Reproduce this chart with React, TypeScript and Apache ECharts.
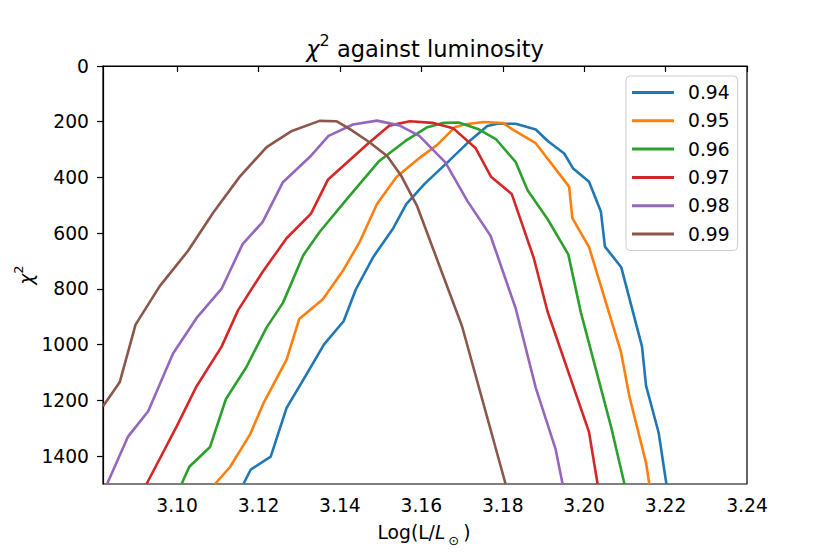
import React, { useEffect, useRef } from "react";
import * as echarts from "echarts";

const seriesNames = ["0.94", "0.95", "0.96", "0.97", "0.98", "0.99"];
const colors = ["#1f77b4", "#ff7f0e", "#2ca02c", "#d62728", "#9467bd", "#8c564b"];

const lum094 = [3.1163, 3.1181, 3.123, 3.1269, 3.1315, 3.1361, 3.1409, 3.1439, 3.1482, 3.1531, 3.1563, 3.1608, 3.1666, 3.1715, 3.1762, 3.1787, 3.1832, 3.1881, 3.1912, 3.1951, 3.1973, 3.2012, 3.2041, 3.2051, 3.2091, 3.2142, 3.2152, 3.2183, 3.2202];
const chi094 = [1500, 1448, 1402, 1227, 1114, 999, 916, 802, 685, 582, 496, 423, 343, 274, 215, 207, 207, 228, 271, 314, 368, 415, 522, 648, 722, 1006, 1147, 1316, 1500];

const lum095 = [3.1093, 3.113, 3.1179, 3.1212, 3.1269, 3.13, 3.1358, 3.1409, 3.1449, 3.1491, 3.1539, 3.159, 3.1639, 3.1682, 3.1706, 3.1752, 3.1801, 3.1832, 3.1881, 3.1963, 3.1971, 3.2012, 3.209, 3.2111, 3.2152, 3.216];
const chi095 = [1500, 1439, 1323, 1211, 1054, 908, 837, 731, 630, 495, 398, 336, 283, 220, 210, 201, 205, 235, 277, 433, 546, 650, 1024, 1185, 1424, 1500];

const lum096 = [3.1011, 3.103, 3.1081, 3.112, 3.117, 3.122, 3.126, 3.131, 3.1351, 3.1417, 3.1495, 3.1561, 3.1613, 3.1655, 3.1692, 3.1739, 3.1783, 3.1832, 3.1861, 3.191, 3.1961, 3.1992, 3.2066, 3.2099];
const chi096 = [1500, 1438, 1367, 1195, 1081, 938, 850, 679, 594, 478, 343, 269, 221, 204, 203, 226, 262, 345, 446, 549, 676, 885, 1294, 1500];

const lum097 = [3.0925, 3.0999, 3.1048, 3.1109, 3.115, 3.121, 3.1269, 3.1329, 3.1371, 3.147, 3.1521, 3.1572, 3.1627, 3.1678, 3.1733, 3.1771, 3.1822, 3.1876, 3.191, 3.2012, 3.2033];
const chi097 = [1500, 1293, 1149, 1008, 876, 739, 618, 530, 407, 277, 214, 198, 204, 223, 294, 397, 459, 688, 881, 1314, 1500];

const lum098 = [3.0828, 3.0879, 3.0929, 3.099, 3.1048, 3.1109, 3.1161, 3.121, 3.126, 3.1327, 3.1372, 3.1432, 3.1491, 3.1546, 3.1595, 3.1659, 3.1713, 3.177, 3.1832, 3.1881, 3.193, 3.1947];
const chi098 = [1500, 1331, 1239, 1032, 904, 800, 639, 560, 417, 325, 251, 210, 196, 213, 251, 346, 484, 609, 871, 1154, 1376, 1500];

const lum099 = [3.0818, 3.0859, 3.0898, 3.0957, 3.1027, 3.1089, 3.1154, 3.122, 3.1282, 3.135, 3.1391, 3.142, 3.147, 3.1516, 3.1551, 3.159, 3.17, 3.1807];
const chi099 = [1221, 1135, 928, 791, 663, 526, 397, 291, 233, 197, 198, 222, 271, 323, 395, 504, 934, 1500];

const xTicks = [3.1, 3.12, 3.14, 3.16, 3.18, 3.2, 3.22, 3.24];
const yTicks = [0, 200, 400, 600, 800, 1000, 1200, 1400];

const allLum = [lum094, lum095, lum096, lum097, lum098, lum099];
const allChi = [chi094, chi095, chi096, chi097, chi098, chi099];

const FONT = "DejaVu Sans";
const FS = 18.7;

export default function App() {
  const ref = useRef<HTMLDivElement>(null);
  useEffect(() => {
    if (!ref.current) return;
    const chart = echarts.init(ref.current, null, { renderer: "svg" });
    const series = seriesNames.map((name, i) => ({
      name,
      type: "line",
      data: allLum[i].map((x, j) => [x, allChi[i][j]]),
      showSymbol: false,
      symbol: "none",
      clip: true,
      lineStyle: { color: colors[i], width: 2.6 },
      itemStyle: { color: colors[i] },
    }));
    chart.setOption({
      animation: false,
      backgroundColor: "#ffffff",
      grid: {
        left: 103,
        top: 66,
        right: 83,
        bottom: 70,
        show: true,
        borderColor: "#000",
        borderWidth: 1.2,
        backgroundColor: "transparent",
      },
      xAxis: {
        type: "value",
        min: 3.0818,
        max: 3.24,
        splitLine: { show: false },
        axisLine: { show: true, lineStyle: { color: "#000", width: 1.2 } },
        axisTick: { show: true, length: 6, lineStyle: { color: "#000", width: 1.2 }, customValues: xTicks },
        axisLabel: {
          customValues: xTicks,
          formatter: (v: number) => v.toFixed(2),
          color: "#000",
          fontFamily: FONT,
          fontSize: FS,
          margin: 12,
        },
      },
      yAxis: {
        type: "value",
        min: 0,
        max: 1500,
        inverse: true,
        splitLine: { show: false },
        axisLine: { show: true, lineStyle: { color: "#000", width: 1.2 } },
        axisTick: { show: true, length: 6, lineStyle: { color: "#000", width: 1.2 }, customValues: yTicks },
        axisLabel: {
          customValues: yTicks,
          formatter: (v: number) => String(v),
          color: "#000",
          fontFamily: FONT,
          fontSize: FS,
          margin: 14,
        },
      },
      legend: {
        orient: "vertical",
        left: 626,
        top: 76,
        itemWidth: 42,
        itemHeight: 3,
        itemGap: 7.3,
        icon: "rect",
        padding: [6, 8, 6, 6],
        backgroundColor: "rgba(255,255,255,0.8)",
        borderColor: "#cccccc",
        borderWidth: 1,
        borderRadius: 4,
        data: seriesNames,
        textStyle: {
          color: "#000",
          fontFamily: FONT,
          fontSize: FS,
          lineHeight: 21,
          padding: [0, 0, 0, 9],
        },
      },
      graphic: [
        {
          type: "text",
          x: 425,
          y: 46,
          style: {
            text: "{c|χ}{s|2}{n| against luminosity}",
            align: "center",
            verticalAlign: "middle",
            fill: "#000",
            rich: {
              c: { fontFamily: FONT, fontSize: 22.5, fontStyle: "italic", lineHeight: 28, verticalAlign: "bottom", fill: "#000" },
              s: { fontFamily: FONT, fontSize: 16, lineHeight: 16, verticalAlign: "top", fill: "#000" },
              n: { fontFamily: FONT, fontSize: 22.5, lineHeight: 28, verticalAlign: "bottom", fill: "#000" },
            },
          },
        },
        {
          type: "text",
          x: 424,
          y: 535,
          style: {
            text: "{n|Log(L/}{i|L}{s|⊙}{n|)}",
            align: "center",
            verticalAlign: "middle",
            fill: "#000",
            rich: {
              n: { fontFamily: FONT, fontSize: FS, lineHeight: 24, verticalAlign: "top", fill: "#000" },
              i: { fontFamily: FONT, fontSize: FS, fontStyle: "italic", lineHeight: 24, verticalAlign: "top", fill: "#000" },
              s: { fontFamily: FONT, fontSize: 13, lineHeight: 13, verticalAlign: "bottom", fill: "#000", padding: [0, 4, 0, 3] },
            },
          },
        },
        {
          type: "text",
          x: 24,
          y: 275,
          rotation: Math.PI / 2,
          style: {
            text: "{c|χ}{s|2}",
            align: "center",
            verticalAlign: "middle",
            fill: "#000",
            rich: {
              c: { fontFamily: FONT, fontSize: FS, fontStyle: "italic", lineHeight: 24, verticalAlign: "bottom", fill: "#000" },
              s: { fontFamily: FONT, fontSize: 13, lineHeight: 13, verticalAlign: "top", fill: "#000" },
            },
          },
        },
      ],
      series,
    });
    return () => chart.dispose();
  }, []);
  return (
    <div
      ref={ref}
      style={{ position: "absolute", left: 0, top: 0, width: 830, height: 554 }}
    />
  );
}
